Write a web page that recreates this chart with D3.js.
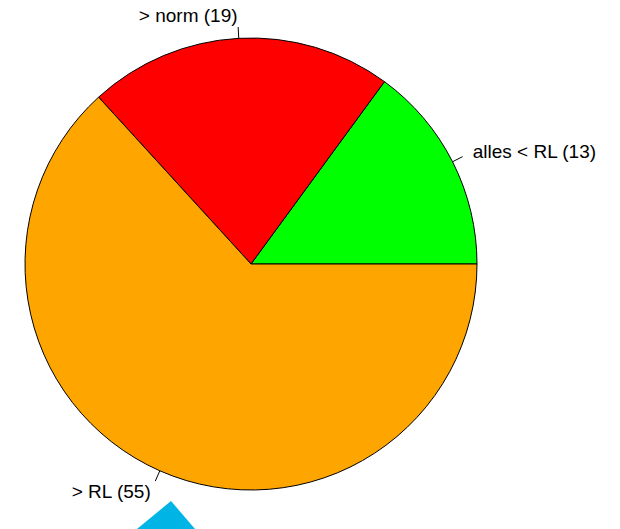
<!DOCTYPE html>
<html><head><meta charset="utf-8">
<script src="https://cdn.jsdelivr.net/npm/d3@7"></script>
<style>body{margin:0;background:#fff}svg{display:block}</style>
</head><body>
<script>
const categories = ["alles < RL", "> norm", "> RL"];
const values = [13, 19, 55];
const colors = ["#00FF00", "#FF0000", "#FFA500"];

const W = 620, H = 529, cx = 251, cy = 264, R = 226;
const svg = d3.select("body").append("svg").attr("width", W).attr("height", H);

const pie = d3.pie().sort(null).value(d => d.v)
  .startAngle(Math.PI / 2).endAngle(Math.PI / 2 - 2 * Math.PI);
const data = categories.map((c, i) => ({c, v: values[i], col: colors[i]}));
const arcs = pie(data);
const arc = d3.arc().innerRadius(0).outerRadius(R);
const g = svg.append("g").attr("transform", `translate(${cx},${cy})`);

g.selectAll("path.slice").data(arcs).join("path")
  .attr("d", arc).attr("fill", d => d.data.col)
  .attr("stroke", "#000").attr("stroke-width", 1);

arcs.forEach(d => {
  const a = (d.startAngle + d.endAngle) / 2;
  const sx = Math.sin(a), sy = -Math.cos(a);
  g.append("line")
    .attr("x1", R * sx).attr("y1", R * sy)
    .attr("x2", 1.05 * R * sx).attr("y2", 1.05 * R * sy)
    .attr("stroke", "#000").attr("stroke-width", 1);
  g.append("text")
    .attr("x", 1.1 * R * sx).attr("y", 1.1 * R * sy)
    .attr("dy", "0.35em")
    .attr("text-anchor", sx > 0 ? "start" : "end")
    .attr("font-family", "Liberation Sans, Arial, sans-serif")
    .attr("font-size", 19).attr("fill", "#000")
    .text(`${d.data.c} (${d.data.v})`);
});

// partially visible blue marker at bottom
svg.append("path")
  .attr("d", d3.line()([[171, 501], [137, 529], [195, 529]]) + "Z")
  .attr("fill", "#00B4E6");
</script>
</body></html>
